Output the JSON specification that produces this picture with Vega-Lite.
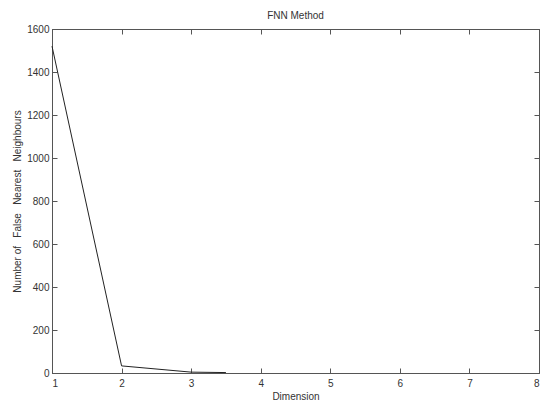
{
  "$schema": "https://vega.github.io/schema/vega-lite/v6.json",
  "autosize": "none",
  "width": 487,
  "height": 344,
  "padding": {"left": 52, "top": 29, "right": 3, "bottom": 28},
  "background": "white",
  "title": {"text": "FNN Method", "fontSize": 10, "font": "Liberation Sans", "fontWeight": "normal", "color": "#333", "offset": 3},
  "data": {"values": [
    {"dim": 1, "fnn": 1520},
    {"dim": 2, "fnn": 33},
    {"dim": 3, "fnn": 4},
    {"dim": 3.5, "fnn": 2}
  ]},
  "config": {
    "view": {"stroke": "#555", "strokeWidth": 1},
    "axis": {"domainColor": "#555", "tickColor": "#555", "grid": false, "labelFont": "Liberation Sans", "titleFont": "Liberation Sans", "labelColor": "#333", "titleColor": "#333", "labelFontSize": 10, "titleFontSize": 10, "titleFontWeight": "normal", "tickSize": -5}
  },
  "layer": [
    {
      "mark": {"type": "line", "color": "#222", "strokeWidth": 1},
      "encoding": {
        "x": {"field": "dim", "type": "quantitative", "scale": {"domain": [1, 8], "nice": false, "zero": false},
              "axis": {"values": [1,2,3,4,5,6,7,8], "title": "Dimension", "titlePadding": 3, "labelPadding": 10, "format": "d"}},
        "y": {"field": "fnn", "type": "quantitative", "scale": {"domain": [0, 1600], "nice": false},
              "axis": {"values": [0,200,400,600,800,1000,1200,1400,1600], "title": "Number\u00a0of\u00a0\u00a0\u00a0False\u00a0\u00a0\u00a0Nearest\u00a0\u00a0\u00a0Neighbours", "titlePadding": 4, "labelPadding": 8, "format": "d"}}
      }
    },
    {
      "mark": {"type": "line", "opacity": 0},
      "encoding": {
        "x": {"field": "dim", "type": "quantitative", "scale": {"domain": [1, 8], "nice": false, "zero": false},
              "axis": {"orient": "top", "values": [1,2,3,4,5,6,7,8], "labels": false, "title": null}},
        "y": {"field": "fnn", "type": "quantitative", "scale": {"domain": [0, 1600], "nice": false},
              "axis": {"orient": "right", "values": [0,200,400,600,800,1000,1200,1400,1600], "labels": false, "title": null}}
      }
    }
  ],
  "resolve": {"axis": {"x": "independent", "y": "independent"}}
}
